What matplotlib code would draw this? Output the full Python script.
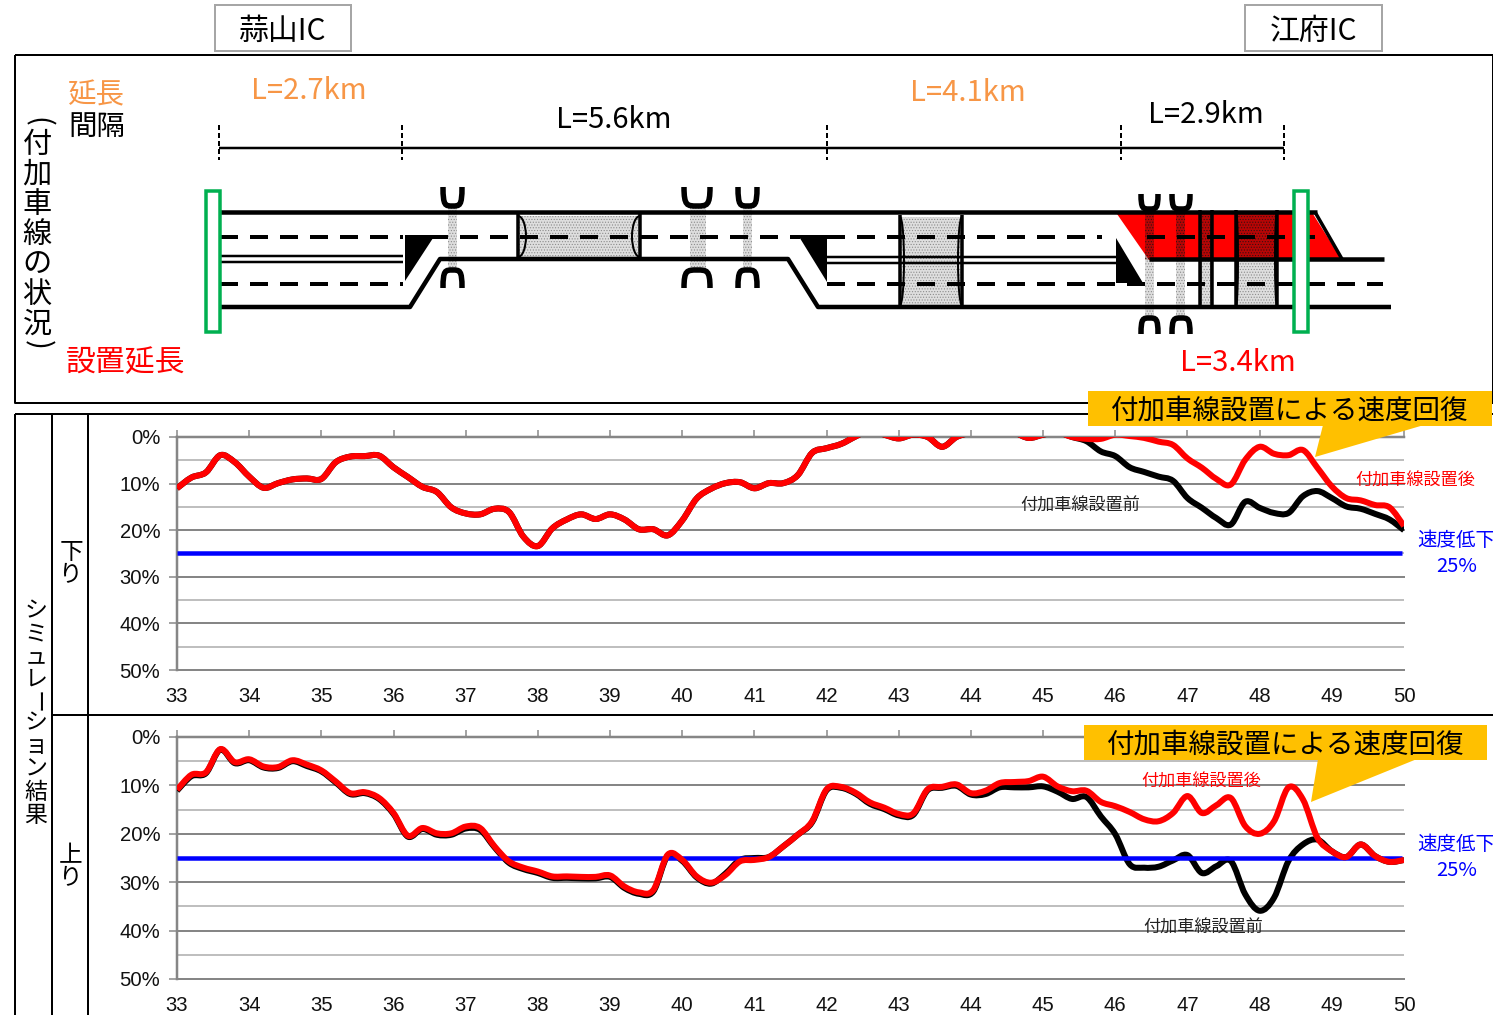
import matplotlib
matplotlib.use("Agg")
import matplotlib.pyplot as plt
from matplotlib.patches import Rectangle, Polygon, Arc, PathPatch
from matplotlib.path import Path

plt.rcParams['font.family'] = ['Noto Sans CJK JP', 'DejaVu Sans']
plt.rcParams['hatch.linewidth'] = 0.5

W, H = 1493, 1015

# km posts, one reading every 0.2 km
km = [33 + i * 0.2 for i in range(86)]
km_ticks = list(range(33, 51))
pct_ticks = [0, 10, 20, 30, 40, 50]
limit = 25

down_after = [
    11.0, 8.7, 7.6, 3.9, 5.4, 8.5, 10.9, 9.9, 9.1, 8.9,
    9.0, 5.4, 4.2, 4.1, 4.0, 6.5, 8.6, 10.7, 11.8, 15.1,
    16.4, 16.6, 15.4, 16.1, 21.4, 23.4, 19.6, 17.7, 16.6, 17.6,
    16.6, 17.7, 19.8, 19.8, 21.1, 17.9, 13.2, 11.1, 9.9, 9.7,
    11.0, 9.9, 9.9, 8.2, 3.4, 2.4, 1.5, -0.1, -1.5, -0.5,
    0.3, -0.5, 0.0, 2.1, 0.0, -1.0, -2.0, -2.0, -1.0, 0.2,
    -0.5, -1.0, 0.0, 0.4, 0.4, -0.5, -0.2, 0.2, 1.0, 1.7,
    4.6, 6.6, 9.0, 10.2, 4.9, 2.1, 3.6, 3.9, 2.8, 6.6,
    10.6, 13.1, 13.6, 14.6, 15.1, 19.1,
]
down_before = down_after[:62] + [
    0.0, 0.9, 3.1, 4.1, 6.5, 7.5, 8.5, 9.4,
    13.1, 15.2, 17.4, 18.8, 13.9, 15.2, 16.3, 16.3, 12.7, 11.6,
    13.1, 14.9, 15.4, 16.5, 17.7, 20.0,
]
up_after = [
    10.9, 7.8, 7.3, 2.5, 5.2, 4.6, 6.1, 6.2, 4.8, 5.7,
    6.9, 9.2, 11.6, 11.4, 12.6, 15.7, 20.4, 18.8, 19.9, 19.9,
    18.5, 18.8, 22.6, 25.7, 27.0, 27.8, 28.8, 28.8, 28.9, 28.9,
    28.6, 30.9, 32.1, 31.6, 24.3, 25.4, 28.8, 30.1, 28.5, 25.7,
    25.4, 24.8, 22.6, 20.2, 17.4, 10.8, 10.3, 11.5, 13.5, 14.6,
    15.9, 15.8, 10.8, 10.3, 9.8, 11.6, 11.1, 9.5, 9.3, 9.1,
    8.2, 10.2, 11.2, 11.1, 13.4, 14.3, 15.5, 17.0, 17.4, 15.7,
    12.2, 15.7, 14.1, 12.6, 18.4, 20.0, 17.4, 10.4, 12.9, 20.8,
    23.6, 24.8, 22.2, 24.6, 25.8, 25.4,
]
up_before = [
    11.1, 8.1, 7.5, 2.6, 5.4, 4.8, 6.3, 6.4, 5.0, 6.0,
    7.1, 9.4, 11.8, 11.6, 12.8, 15.9, 20.6, 19.0, 20.2, 20.2,
    18.9, 19.2, 22.8, 26.0, 27.3, 28.1, 29.1, 29.1, 29.2, 29.2,
    28.9, 31.2, 32.4, 31.9, 24.5, 25.6, 29.0, 30.3, 28.2, 25.4,
    25.0, 24.8, 22.6, 20.2, 17.6, 11.0, 10.5, 11.7, 13.8, 14.9,
    16.2, 16.1, 11.0, 10.5, 10.1, 11.9, 11.8, 10.4, 10.4, 10.4,
    10.2, 11.3, 12.8, 12.4, 16.4, 20.1, 26.3, 27.0, 26.8, 25.5,
    24.4, 28.1, 26.7, 25.6, 32.5, 35.9, 33.2, 25.6, 22.2, 21.2,
    23.6, 24.8, 22.2, 24.6, 25.8, 25.4,
]

GRID_MAJOR = '#868686'
GRID_MINOR = '#BFBFBF'
AMBER = '#FFC000'
ORANGE = '#F79646'
GREEN = '#00B050'
PX = 72 / 100  # one pixel in points at dpi 100

fig = plt.figure(figsize=(W / 100, H / 100), dpi=100, facecolor='white')

# sheet in pixel coordinates for the frames, road sketch and notes
sheet = fig.add_axes([0, 0, 1, 1])
sheet.set_xlim(0, W)
sheet.set_ylim(H, 0)
sheet.axis('off')


def line(xs, ys, lw=4, color='black', **kw):
    sheet.plot(xs, ys, color=color, lw=lw * PX, solid_capstyle=kw.pop('cap', 'butt'), **kw)


def label(x, y, s, size, color='black', ha='center', **kw):
    # the CJK font sits high in its box, so nudge upright text down
    nudge = 0 if kw.get('rotation') else 3
    sheet.text(x, y + nudge, s, fontsize=size, color=color, ha=ha, va='center', **kw)


def bridge(x0, x1, y0, y1, z=3, filled=True):
    face = (0.86, 0.86, 0.86, 0.9) if filled else (0.3, 0.05, 0.05, 0.4)
    edge = '#8C8C8C' if filled else '#3A1010'
    sheet.add_patch(Rectangle((x0, y0), x1 - x0, y1 - y0, facecolor=face, edgecolor=edge,
                              hatch='......', lw=0, zorder=z))


def cup(x0, x1, y0, y1):
    # curved ramp mark, y0 is the open end and y1 the closed end
    xm = (x0 + x1) / 2
    d = (x1 - x0) * 0.12
    verts = [(x0, y0), (x0, y1), (x0 + d, y1), (xm, y1), (x1 - d, y1), (x1, y1), (x1, y0)]
    codes = [Path.MOVETO, Path.CURVE4, Path.CURVE4, Path.CURVE4, Path.CURVE4, Path.CURVE4, Path.CURVE4]
    sheet.add_patch(PathPatch(Path(verts, codes), fill=False, edgecolor='black', lw=5.5 * PX, zorder=6))


def portals(x0, x1, y0, y1, bulge=8):
    for x, sign in ((x0, 1), (x1, -1)):
        line([x, x], [y0 - 2, y1 + 2], lw=3.5, zorder=7)
        sheet.add_patch(Arc((x, (y0 + y1) / 2), 2 * bulge, y1 - y0, theta1=-90 if sign > 0 else 90,
                            theta2=90 if sign > 0 else 270, lw=2 * PX, color='black', zorder=7))


def tube(x0, x1, y0, y1, bulge=8):
    # tunnel portals on both ends of a shaded block
    bridge(x0, x1, y0, y1)
    portals(x0, x1, y0, y1, bulge)


# frames
line([15, 1493, 1493, 15, 15], [55, 55, 403, 403, 55], lw=2)
line([15, 1493], [414, 414], lw=2)
line([15, 15], [414, H], lw=2)
line([52, 52], [414, H], lw=2)
line([88, 88], [414, H], lw=2)
line([52, 1493], [715, 715], lw=2)

# IC boxes
for x0, x1, name in ((215, 351, '蒜山IC'), (1245, 1382, '江府IC')):
    sheet.add_patch(Rectangle((x0, 5), x1 - x0, 46, facecolor='white', edgecolor='#A6A6A6', lw=2 * PX))
    label((x0 + x1) / 2, 28, name, 21.5)

# section lengths
label(68, 92, '延長', 20.5, ORANGE, ha='left')
label(68, 124, '間隔', 20.5, ha='left')
label(66, 360, '設置延長', 21.5, 'red', ha='left')
label(309, 88, 'L=2.7km', 21, ORANGE)
label(614, 117, 'L=5.6km', 21)
label(968, 90, 'L=4.1km', 21, ORANGE)
label(1206, 112, 'L=2.9km', 21)
label(1238, 360, 'L=3.4km', 21, 'red')
line([219, 1284], [148, 148], lw=2.5)
for x in (219, 402, 827, 1121, 1284):
    line([x, x], [125, 160], lw=2, ls=(0, (2.5, 1.5)))

# vertical captions, stacked one glyph per line
label(37, 122, '(', 21, rotation=-90)
label(37, 345, ')', 21, rotation=-90)
label(37, 232, '\n'.join('付加車線の状況'), 21, linespacing=1.0)
label(36, 642, '\n'.join('シミュレ'), 16.5, linespacing=1.0)
label(36, 702, 'ー', 16.5, rotation=-90)
label(36, 766, '\n'.join('ション結果'), 16.5, linespacing=1.0)
label(71, 561, '下\nり', 17, linespacing=1.0)
label(71, 864, '上\nり', 17, linespacing=1.0)

# road sketch: lanes
sheet.add_patch(Polygon([(1117, 214), (1313, 214), (1342, 260), (1149, 260)], facecolor='red', edgecolor='none', zorder=1))
line([220, 1317], [212, 212], lw=4.5, zorder=4)
line([220, 403], [256, 256], lw=2.5, zorder=4)
line([220, 403], [262, 262], lw=2.5, zorder=4)
line([827, 1116], [257, 257], lw=2.5, zorder=4)
line([827, 1116], [263, 263], lw=2.5, zorder=4)
line([220, 410, 440, 788, 818, 1391], [307, 307, 259, 259, 307, 307], lw=4.5, zorder=4)
line([1149, 1384], [259, 259], lw=4.5, zorder=4)
line([1315, 1342], [212, 259], lw=3.5, zorder=4)
dash = (0, (18 / 4, 12 / 4))
line([220, 403], [237, 237], lw=4, ls=dash, zorder=5)
line([430, 800], [237, 237], lw=4, ls=dash, zorder=5)
line([827, 1102], [237, 237], lw=4, ls=dash, zorder=5)
line([1147, 1315], [237, 237], lw=4, ls=dash, zorder=5)
line([220, 403], [284, 284], lw=4, ls=dash, zorder=5)
line([827, 1383], [284, 284], lw=4, ls=dash, zorder=5)
for tri in ([(405, 235), (435, 235), (405, 281)], [(798, 235), (827, 235), (827, 282)], [(1116, 238), (1143, 283), (1116, 283)]):
    sheet.add_patch(Polygon(tri, facecolor='black', edgecolor='none', zorder=5))

# road sketch: bridges and tunnels
bridge(448, 457, 207, 270)
bridge(690, 706, 207, 270)
bridge(743, 752, 207, 270)
bridge(1145, 1154, 260, 317)
bridge(1145, 1154, 208, 260, filled=False)
bridge(1176, 1185, 260, 317)
bridge(1176, 1185, 208, 260, filled=False)
tube(518, 640, 216, 257)
tube(900, 962, 217, 305, bulge=4)
bridge(1200, 1212, 260, 306)
bridge(1200, 1212, 212, 260, filled=False)
portals(1200, 1212, 212, 306, bulge=0.5)
bridge(1236, 1277, 260, 306)
bridge(1236, 1277, 212, 260, filled=False)
portals(1236, 1277, 212, 306, bulge=2)
for x0, x1 in ((443, 462), (684, 710), (738, 757)):
    cup(x0, x1, 187, 206)
    cup(x0, x1, 288, 270)
for x0, x1 in ((1141, 1158), (1172, 1190)):
    cup(x0, x1, 194, 209)
    cup(x0, x1, 334, 318)
for x0 in (206, 1294):
    sheet.add_patch(Rectangle((x0, 191), 14, 141, facecolor='white', edgecolor=GREEN, lw=3.5 * PX, zorder=8))


def smooth(xs, ys):
    # Excel style smoothed line: a bezier through every reading
    verts = [(xs[0], ys[0])]
    codes = [Path.MOVETO]
    n = len(xs)
    for i in range(n - 1):
        a, b = max(i - 1, 0), min(i + 2, n - 1)
        verts.append((xs[i] + (xs[i + 1] - xs[a]) / 6, ys[i] + (ys[i + 1] - ys[a]) / 6))
        verts.append((xs[i + 1] - (xs[b] - xs[i]) / 6, ys[i + 1] - (ys[b] - ys[i]) / 6))
        verts.append((xs[i + 1], ys[i + 1]))
        codes += [Path.CURVE4] * 3
    return Path(verts, codes)


def chart(y_top, y_bot, before, after):
    ax = fig.add_axes([177 / W, 1 - y_bot / H, (1404 - 177) / W, (y_bot - y_top) / H], facecolor='none')
    ax.set_xlim(33, 50)
    ax.set_ylim(50, 0)
    for s in ('right', 'bottom'):
        ax.spines[s].set_visible(False)
    for s in ('left', 'top'):
        ax.spines[s].set_color(GRID_MAJOR)
        ax.spines[s].set_linewidth(2.5 * PX)
    for v in range(5, 50, 10):
        ax.axhline(v, color=GRID_MINOR, lw=2 * PX, zorder=1)
    for v in pct_ticks[1:]:
        ax.axhline(v, color=GRID_MAJOR, lw=2 * PX, zorder=1, clip_on=False)
    ax.set_yticks(pct_ticks)
    ax.set_yticklabels([f'{v}%' for v in pct_ticks], family='Liberation Sans', fontsize=14.6, color='#111111')
    ax.set_xticks(km_ticks)
    ax.set_xticklabels(km_ticks, family='Liberation Sans', fontsize=14.6, color='#111111')
    ax.tick_params(axis='y', length=6, width=1.5 * PX, color=GRID_MAJOR, pad=6)
    ax.tick_params(axis='x', bottom=False, labelbottom=True, top=True, direction='out', length=5,
                   width=1.5 * PX, color=GRID_MAJOR, pad=7)
    ax.plot([33, 49.97], [limit, limit], color='#0000FF', lw=4.5 * PX, zorder=5, solid_capstyle='butt')
    ax.add_patch(PathPatch(smooth(km, before), fill=False, edgecolor='black', lw=6 * PX, zorder=4, joinstyle='round'))
    ax.add_patch(PathPatch(smooth(km, after), fill=False, edgecolor='#FF0000', lw=6 * PX, zorder=6, joinstyle='round'))
    return ax


chart(437, 670, down_before, down_after)
chart(737, 979, up_before, up_after)

# notes above the charts
notes = fig.add_axes([0, 0, 1, 1], facecolor='none')
notes.set_xlim(0, W)
notes.set_ylim(H, 0)
notes.axis('off')
for x0, x1, y0, y1, tip, base in ((1088, 1492, 391, 426, (1315, 457), (1323, 1424)),
                                  (1084, 1487, 725, 760, (1311, 802), (1318, 1417))):
    notes.add_patch(Rectangle((x0, y0), x1 - x0, y1 - y0, facecolor=AMBER, edgecolor='none'))
    notes.add_patch(Polygon([(base[0], y1 - 1), tip, (base[1], y1 - 1)], facecolor=AMBER, edgecolor='none'))
    notes.text((x0 + x1) / 2, (y0 + y1) / 2 + 3, '付加車線設置による速度回復', fontsize=19.8, ha='center', va='center')
for x, y, s, c in ((1080, 506, '付加車線設置前', '#222222'), (1415, 481, '付加車線設置後', 'red'),
                   (1201, 782, '付加車線設置後', 'red'), (1203, 928, '付加車線設置前', '#222222')):
    notes.text(x, y, s, fontsize=12.3, color=c, ha='center', va='center')
for y in (541, 845):
    notes.text(1417, y, '速度低下', fontsize=14, color='#0000FF', ha='left', va='center')
    notes.text(1457, y + 25, '25%', fontsize=14.5, color='#0000FF', ha='center', va='center')

fig.savefig('out.png', dpi=100)
